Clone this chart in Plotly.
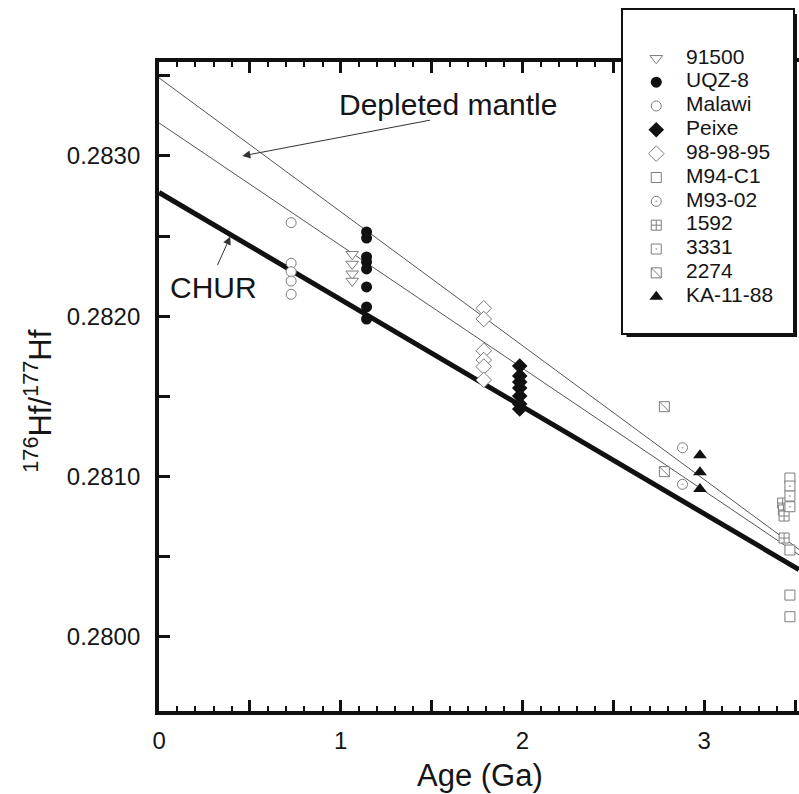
import plotly.graph_objects as go

# ---------------- data ----------------
names = ["91500", "UQZ-8", "Malawi", "Peixe", "98-98-95", "M94-C1",
         "M93-02", "1592", "3331", "2274", "KA-11-88"]

age_91500 = [1.063, 1.063, 1.063, 1.063]
hf_91500 = [0.282387, 0.282326, 0.282265, 0.282220]

age_uqz8 = [1.142, 1.142, 1.142, 1.142, 1.142, 1.142, 1.142, 1.142]
hf_uqz8 = [0.282526, 0.282488, 0.282370, 0.282339, 0.282295, 0.282183, 0.282058, 0.281983]

age_malawi = [0.727, 0.727, 0.727, 0.727, 0.727]
hf_malawi = [0.282584, 0.282331, 0.282278, 0.282220, 0.282137]

age_peixe = [1.985, 1.985, 1.985, 1.985, 1.985, 1.985, 1.985]
hf_peixe = [0.281690, 0.281628, 0.281590, 0.281553, 0.281503, 0.281453, 0.281422]

age_989895 = [1.787, 1.787, 1.787, 1.787, 1.787, 1.787]
hf_989895 = [0.282050, 0.281983, 0.281785, 0.281727, 0.281686, 0.281603]

age_m94c1 = [3.472, 3.472, 3.472, 3.472]
hf_m94c1 = [0.280991, 0.280542, 0.280261, 0.280126]

age_m9302 = [2.881, 2.881]
hf_m9302 = [0.281180, 0.280952]

age_1592 = [3.432, 3.436, 3.440, 3.440]
hf_1592 = [0.280835, 0.280792, 0.280754, 0.280617]

age_3331 = [3.472, 3.472, 3.472]
hf_3331 = [0.280941, 0.280879, 0.280812]

age_2274 = [2.781, 2.781]
hf_2274 = [0.281436, 0.281031]

age_ka1188 = [2.977, 2.977, 2.977]
hf_ka1188 = [0.281133, 0.281027, 0.280923]

# evolution lines (end points)
dm_upper_age = [0.0, 3.522]
dm_upper_hf = [0.283487, 0.280546]
dm_lower_age = [0.0, 3.522]
dm_lower_hf = [0.283206, 0.280512]
chur_age = [0.0, 3.522]
chur_hf = [0.282772, 0.280420]

x_tickvals = [0, 0.5, 1, 1.5, 2, 2.5, 3, 3.5]
x_ticktext = ["0", "", "1", "", "2", "", "3", ""]
y_tickvals = [0.2800, 0.2805, 0.2810, 0.2815, 0.2820, 0.2825, 0.2830, 0.2835]
y_ticktext = ["0.2800", "", "0.2810", "", "0.2820", "", "0.2830", ""]

series_age = [age_91500, age_uqz8, age_malawi, age_peixe, age_989895, age_m94c1,
              age_m9302, age_1592, age_3331, age_2274, age_ka1188]
series_hf = [hf_91500, hf_uqz8, hf_malawi, hf_peixe, hf_989895, hf_m94c1,
             hf_m9302, hf_1592, hf_3331, hf_2274, hf_ka1188]

# ---------------- styles ----------------
W, H = 799, 794
FONT = "Liberation Sans, Arial, sans-serif"
BLACK = "#111111"
GRAY = "#7c7c7c"
TXT = "#151515"

open_line = dict(color=GRAY, width=1)
styles = {
    "91500": dict(symbol="triangle-down", color="white", size=11, line=open_line),
    "UQZ-8": dict(symbol="circle", color=BLACK, size=11, line=dict(color=BLACK, width=0)),
    "Malawi": dict(symbol="circle", color="white", size=10, line=open_line),
    "Peixe": dict(symbol="diamond", color=BLACK, size=12, line=dict(color=BLACK, width=0)),
    "98-98-95": dict(symbol="diamond", color="white", size=12, line=open_line),
    "M94-C1": dict(symbol="square", color="white", size=10, line=open_line),
    "M93-02": dict(symbol="circle-dot", color="white", size=10, line=open_line),
    "1592": dict(symbol="square-cross", color="white", size=10, line=open_line),
    "3331": dict(symbol="square-dot", color="white", size=10, line=open_line),
    "2274": dict(symbol="square", color="white", size=10, line=open_line),
    "KA-11-88": dict(symbol="triangle-up", color=BLACK, size=12, line=dict(color=BLACK, width=0)),
}
diag_style = dict(symbol="line-nw", color=GRAY, size=10, line=dict(color=GRAY, width=1))

fig = go.Figure()

# lines
fig.add_trace(go.Scatter(x=dm_upper_age, y=dm_upper_hf, mode="lines",
                         line=dict(color="#555555", width=1), hoverinfo="skip"))
fig.add_trace(go.Scatter(x=dm_lower_age, y=dm_lower_hf, mode="lines",
                         line=dict(color="#555555", width=1), hoverinfo="skip"))
fig.add_trace(go.Scatter(x=chur_age, y=chur_hf, mode="lines",
                         line=dict(color=BLACK, width=5), hoverinfo="skip"))

# points
for nm, xs, ys in zip(names, series_age, series_hf):
    fig.add_trace(go.Scatter(x=xs, y=ys, mode="markers", name=nm, marker=styles[nm]))
    if nm == "2274":
        fig.add_trace(go.Scatter(x=xs, y=ys, mode="markers", marker=diag_style,
                                 hoverinfo="skip"))

# ---------------- legend as an inset subplot ----------------
leg_idx = list(range(len(names)))
for i, nm in enumerate(names):
    fig.add_trace(go.Scatter(x=[34], y=[i], mode="markers", marker=styles[nm],
                             xaxis="x2", yaxis="y2", hoverinfo="skip"))
    if nm == "2274":
        fig.add_trace(go.Scatter(x=[34], y=[i], mode="markers", marker=diag_style,
                                 xaxis="x2", yaxis="y2", hoverinfo="skip"))
fig.add_trace(go.Scatter(x=[64] * len(names), y=leg_idx, mode="text", text=names,
                         textposition="middle right",
                         textfont=dict(family=FONT, size=21, color=TXT),
                         xaxis="x2", yaxis="y2", hoverinfo="skip"))

# ---------------- geometry ----------------
px_left, px_right = 153.4, 799
px_top, px_bot = 62, 711
box_l, box_r, box_t, box_b = 621, 793, 10, 333
entry0, entry_gap = 58.3, 23.84
shadow = 4

def fx(p):
    return p / W

def fy(p):
    return 1 - p / H

leg_top_u = -(entry0 - box_t) / entry_gap
leg_bot_u = leg_top_u + (box_b - box_t) / entry_gap

axis_common = dict(showgrid=False, zeroline=False, showline=True, linecolor=BLACK,
                   linewidth=4, ticks="inside", tickcolor=BLACK, tickwidth=2.5,
                   ticklen=11, tickfont=dict(family=FONT, size=24, color=TXT))

fig.update_layout(
    width=W, height=H, margin=dict(l=0, r=0, t=0, b=0),
    paper_bgcolor="white", plot_bgcolor="white", showlegend=False,
    font=dict(family=FONT, color=TXT),
    xaxis=dict(domain=[fx(px_left), 1.0], range=[0, 3.522], anchor="y",
               tickmode="array", tickvals=x_tickvals, ticktext=x_ticktext,
               mirror="ticks", ticklabelstandoff=5,
               minor=dict(dtick=0.1, tick0=0, ticks="inside", ticklen=5,
                          tickwidth=2, tickcolor=BLACK, showgrid=False),
               **axis_common),
    yaxis=dict(domain=[fy(px_bot), fy(px_top)], range=[0.279538, 0.283586], anchor="x",
               tickmode="array", tickvals=y_tickvals, ticktext=y_ticktext,
               mirror=False, ticklabelstandoff=10,
               **axis_common),
    yaxis3=dict(overlaying="y", side="right", anchor="x", range=[0.279538, 0.283586],
                tickmode="array", tickvals=y_tickvals, ticks="inside", ticklen=3,
                tickwidth=2.5, tickcolor=BLACK, showticklabels=False,
                showline=False, showgrid=False, zeroline=False),
    xaxis2=dict(domain=[fx(box_l), fx(box_r)], range=[0, box_r - box_l], anchor="y2",
                showgrid=False, zeroline=False, showticklabels=False, ticks="",
                showline=True, mirror=True, linecolor=BLACK, linewidth=1.5,
                fixedrange=True),
    yaxis2=dict(domain=[fy(box_b), fy(box_t)], range=[leg_bot_u, leg_top_u], anchor="x2",
                showgrid=False, zeroline=False, showticklabels=False, ticks="",
                showline=True, mirror=True, linecolor=BLACK, linewidth=1.5,
                fixedrange=True),
)

# drop shadow of the legend box (right and bottom strips)
fig.add_shape(type="rect", xref="paper", yref="paper",
              x0=fx(box_r), x1=fx(box_r + shadow), y0=fy(box_b + shadow), y1=fy(box_t + shadow),
              fillcolor=BLACK, line=dict(width=0), layer="above")
fig.add_shape(type="rect", xref="paper", yref="paper",
              x0=fx(box_l + shadow), x1=fx(box_r + shadow), y0=fy(box_b + shadow), y1=fy(box_b),
              fillcolor=BLACK, line=dict(width=0), layer="above")

ann_font = dict(family=FONT, size=30, color=TXT)
fig.add_annotation(text="Depleted mantle", xref="paper", yref="paper",
                   x=fx(333), y=fy(104), xanchor="left", yanchor="middle",
                   showarrow=False, font=ann_font)
fig.add_annotation(text="", x=0.458, y=0.2830, ax=1.4995, ay=0.283225,
                   xref="x", yref="y", axref="x", ayref="y", showarrow=True,
                   arrowhead=2, arrowsize=1.6, arrowwidth=1, arrowcolor="#333333")
fig.add_annotation(text="CHUR", xref="paper", yref="paper",
                   x=fx(208), y=fy(287.5), xanchor="center", yanchor="middle",
                   showarrow=False, font=ann_font)
fig.add_annotation(text="", x=0.392, y=0.282497, ax=0.318, ay=0.282310,
                   xref="x", yref="y", axref="x", ayref="y", showarrow=True,
                   arrowhead=2, arrowsize=1.6, arrowwidth=1, arrowcolor="#333333")

# axis titles
fig.add_annotation(text="Age (Ga)", xref="paper", yref="paper",
                   x=fx(477), y=fy(775), xanchor="center", yanchor="middle",
                   showarrow=False, font=dict(family=FONT, size=31, color=TXT))
fig.add_annotation(text="<sup>176</sup>Hf/<sup>177</sup>Hf", xref="paper", yref="paper",
                   x=fx(31), y=fy(401), xanchor="center", yanchor="middle",
                   textangle=-90, showarrow=False,
                   font=dict(family=FONT, size=31, color=TXT))

fig.write_html("out.html")
